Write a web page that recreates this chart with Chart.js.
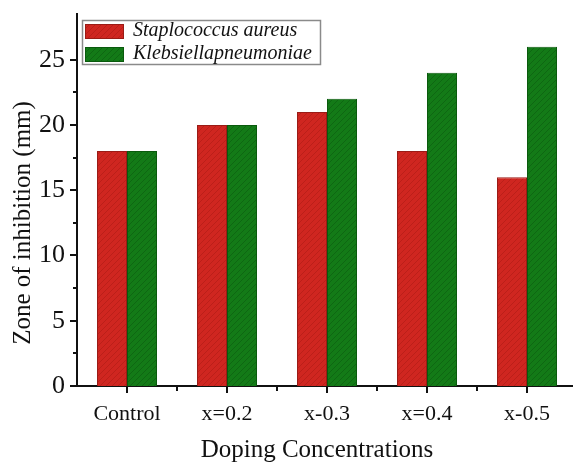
<!DOCTYPE html>
<html>
<head>
<meta charset="utf-8">
<script src="https://cdn.jsdelivr.net/npm/chart.js@4/dist/chart.umd.min.js"></script>
<style>
  html, body { margin: 0; padding: 0; background: #fff; overflow: hidden; }
  #wrap { position: absolute; left: 0; top: 0; width: 577px; height: 465px; }
</style>
</head>
<body>
<div id="wrap"><canvas id="chart"></canvas></div>
<script>
// Doping concentrations tested and the inhibition zones measured for each strain
const categories = ['Control', 'x=0.2', 'x-0.3', 'x=0.4', 'x-0.5'];
const staphylococcus = [18, 20, 21, 18, 16];
const klebsiella = [18, 20, 22, 24, 26];
const seriesNames = ['Staplococcus aureus', 'Klebsiellapneumoniae'];
const yLabelTicks = [0, 5, 10, 15, 20, 25];
const xTitle = 'Doping Concentrations';
const yTitle = 'Zone of inhibition (mm)';

const SERIF = '"Liberation Serif", "Times New Roman", serif';

// Solid fill with fine diagonal hatching
function hatch(base, line) {
  const c = document.createElement('canvas');
  c.width = 6; c.height = 6;
  const g = c.getContext('2d');
  g.fillStyle = base;
  g.fillRect(0, 0, 6, 6);
  g.strokeStyle = line;
  g.lineWidth = 1;
  g.beginPath();
  g.moveTo(0, 6); g.lineTo(6, 0);
  g.moveTo(-3, 3); g.lineTo(3, -3);
  g.moveTo(3, 9); g.lineTo(9, 3);
  g.stroke();
  return g.createPattern(c, 'repeat');
}

const ctx = document.getElementById('chart').getContext('2d');
const redFill = hatch('#cf2620', 'rgba(150,20,15,0.35)');
const greenFill = hatch('#137a17', 'rgba(5,70,8,0.35)');

// Outward tick marks: long at labelled values / category centres, short in between
const tickMarks = {
  id: 'tickMarks',
  afterDraw(chart) {
    const g = chart.ctx;
    const x = chart.scales.x, y = chart.scales.y;
    const area = chart.chartArea;
    g.save();
    g.strokeStyle = '#111';
    g.lineWidth = 2;
    g.beginPath();
    y.ticks.forEach(t => {
      if (Math.abs(t.value / 2.5 - Math.round(t.value / 2.5)) > 1e-6) return;
      const py = Math.round(y.getPixelForValue(t.value));
      const major = Math.abs(t.value % 5) < 1e-6;
      g.moveTo(area.left - (major ? 7 : 4), py);
      g.lineTo(area.left, py);
    });
    categories.forEach((c, i) => {
      const px = Math.round(x.getPixelForValue(i));
      g.moveTo(px, area.bottom);
      g.lineTo(px, area.bottom + 7);
      if (i > 0) {
        const bx = Math.round((x.getPixelForValue(i - 1) + px) / 2);
        g.moveTo(bx, area.bottom);
        g.lineTo(bx, area.bottom + 5);
      }
    });
    const last = x.getPixelForValue(categories.length - 1);
    const step = last - x.getPixelForValue(categories.length - 2);
    g.moveTo(Math.round(last + step / 2), area.bottom);
    g.lineTo(Math.round(last + step / 2), area.bottom + 5);
    g.stroke();
    g.restore();
  }
};

// Axis titles
const axisTitles = {
  id: 'axisTitles',
  afterDraw(chart) {
    const g = chart.ctx;
    const area = chart.chartArea;
    g.save();
    g.fillStyle = '#111';
    g.font = '25px ' + SERIF;
    g.textAlign = 'center';
    g.textBaseline = 'alphabetic';
    g.fillText(xTitle, area.left + 240, chart.height - 8);
    g.translate(30, area.top + 209);
    g.rotate(-Math.PI / 2);
    g.fillText(yTitle, 0, 0);
    g.restore();
  }
};

// Boxed legend in the upper-left corner of the plot
const boxedLegend = {
  id: 'boxedLegend',
  afterDraw(chart) {
    const g = chart.ctx;
    const area = chart.chartArea;
    const bx = area.left + 5, by = area.top + 6, bw = 238, bh = 44;
    g.save();
    g.fillStyle = '#fff';
    g.fillRect(bx, by, bw, bh);
    g.strokeStyle = '#8a8a8a';
    g.lineWidth = 1.5;
    g.strokeRect(bx + 0.5, by + 0.5, bw, bh);
    g.font = 'italic 20px ' + SERIF;
    g.textBaseline = 'middle';
    chart.data.datasets.forEach((ds, i) => {
      const rowY = by + 11 + i * 23;
      g.fillStyle = ds.backgroundColor;
      g.fillRect(bx + 3, rowY - 7, 39, 15);
      g.strokeStyle = ds.borderColor;
      g.lineWidth = 1;
      g.strokeRect(bx + 3.5, rowY - 6.5, 38, 14);
      g.fillStyle = '#111';
      g.fillText(ds.label, bx + 51, rowY);
    });
    g.restore();
  }
};

new Chart(ctx, {
  type: 'bar',
  data: {
    labels: categories,
    datasets: [
      { label: seriesNames[0], data: staphylococcus, backgroundColor: redFill, borderColor: '#9a1c16', borderWidth: 1 },
      { label: seriesNames[1], data: klebsiella, backgroundColor: greenFill, borderColor: '#0a5a0d', borderWidth: 1 }
    ]
  },
  options: {
    responsive: true,
    maintainAspectRatio: false,
    animation: false,
    events: [],
    layout: { padding: { top: 14, right: 0, bottom: 0, left: 0 } },
    datasets: { bar: { categoryPercentage: 0.6, barPercentage: 1.0 } },
    plugins: {
      legend: { display: false },
      tooltip: { enabled: false }
    },
    scales: {
      x: {
        grid: { display: false, drawTicks: false },
        border: { display: true, color: '#111', width: 2 },
        ticks: { color: '#111', font: { family: SERIF, size: 22 }, padding: 15, maxRotation: 0 },
        title: { display: false },
        afterFit(scale) { scale.height = 79; scale.paddingLeft = 0; scale.paddingRight = 0; }
      },
      y: {
        min: 0,
        max: 28.5,
        grid: { display: false, drawTicks: false },
        border: { display: true, color: '#111', width: 2 },
        ticks: {
          stepSize: 2.5,
          autoSkip: false,
          color: '#111',
          padding: 12,
          font: { family: SERIF, size: 26 },
          callback: (v) => yLabelTicks.includes(v) ? String(v) : ''
        },
        title: { display: false },
        afterFit(scale) { scale.width = 77; scale.paddingTop = 0; scale.paddingBottom = 0; }
      }
    }
  },
  plugins: [tickMarks, axisTitles, boxedLegend]
});
</script>
</body>
</html>
